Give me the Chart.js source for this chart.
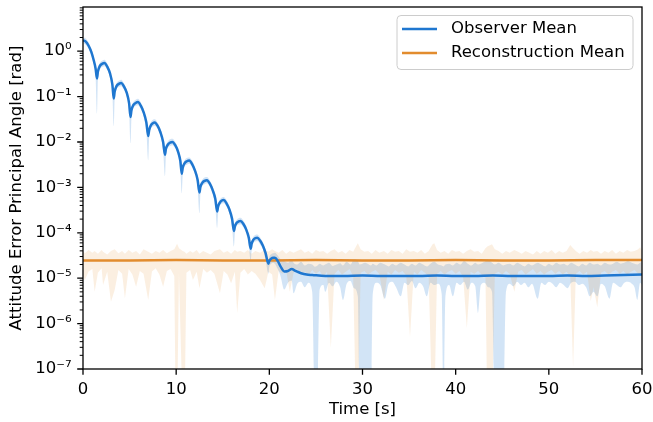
<!DOCTYPE html>
<html>
<head>
<meta charset="utf-8">
<script src="https://cdn.jsdelivr.net/npm/chart.js@4"></script>
<style>
  html, body { margin: 0; padding: 0; background: #fff; }
  #wrap { width: 653px; height: 422px; }
</style>
</head>
<body>
<div id="wrap"><canvas id="chart" width="653" height="422"></canvas></div>
<script>
// values are log10 of the principal angle error [rad]
const obsTime = [0,0.3,0.6,0.9,1.15,1.35,1.5,
  1.6,1.8,2.05,2.3,2.6,2.9,3.15,3.3, 3.4,3.6,3.85,4.1,4.4,4.7,4.95,5.1,
  5.2,5.4,5.65,5.9,6.2,6.5,6.8,7.0, 7.1,7.3,7.5,7.7,8.0,8.3,8.6,8.8,
  8.9,9.1,9.35,9.6,9.9,10.2,10.45,10.6, 10.7,10.9,11.15,11.4,11.7,12.0,12.3,12.5,
  12.6,12.8,13.05,13.3,13.6,13.9,14.2,14.4, 14.5,14.7,14.9,15.1,15.4,15.7,16.0,16.2,
  16.3,16.5,16.7,16.9,17.2,17.5,17.8,18.0, 18.1,18.3,18.5,18.7,19.0,19.3,19.6,19.9,
  20.0,20.2,20.4,20.6,20.9,21.2,
  21.6,22.0,22.4,22.8,23.4,24.0,24.6,
  26,28,30,32,34,36,38,40,42,44,46,48,50,52,54,56,58,60];
const obsMean = [0.24,0.21,0.12,-0.02,-0.2,-0.38,-0.6,
  -0.45,-0.33,-0.28,-0.26,-0.34,-0.49,-0.73,-1.04, -0.89,-0.77,-0.72,-0.70,-0.78,-0.92,-1.15,-1.45,
  -1.30,-1.19,-1.14,-1.12,-1.20,-1.34,-1.57,-1.87, -1.74,-1.63,-1.585,-1.57,-1.64,-1.78,-2.0,-2.28,
  -2.15,-2.06,-2.015,-2.0,-2.07,-2.21,-2.42,-2.7, -2.57,-2.47,-2.425,-2.41,-2.48,-2.62,-2.83,-3.11,
  -2.99,-2.9,-2.855,-2.84,-2.91,-3.05,-3.25,-3.53, -3.42,-3.33,-3.29,-3.28,-3.35,-3.48,-3.69,-3.96,
  -3.86,-3.78,-3.75,-3.74,-3.8,-3.92,-4.11,-4.35, -4.24,-4.15,-4.12,-4.11,-4.17,-4.28,-4.45,-4.68,
  -4.62,-4.57,-4.55,-4.55,-4.62,-4.74,
  -4.85,-4.84,-4.8,-4.84,-4.89,-4.92,-4.93,
  -4.95,-4.95,-4.94,-4.95,-4.95,-4.95,-4.94,-4.95,-4.95,-4.94,-4.95,-4.95,-4.95,-4.94,-4.95,-4.94,-4.93,-4.92];

const obsBandTime = [0,0.3,0.6,0.9,1.15,1.35,1.5,
  1.6,1.8,2.05,2.3,2.6,2.9,3.15,3.3, 3.4,3.6,3.85,4.1,4.4,4.7,4.95,5.1,
  5.2,5.4,5.65,5.9,6.2,6.5,6.8,7.0, 7.1,7.3,7.5,7.7,8.0,8.3,8.6,8.8,
  8.9,9.1,9.35,9.6,9.9,10.2,10.45,10.6, 10.7,10.9,11.15,11.4,11.7,12.0,12.3,12.5,
  12.6,12.8,13.05,13.3,13.6,13.9,14.2,14.4, 14.5,14.7,14.9,15.1,15.4,15.7,16.0,16.2,
  16.3,16.5,16.7,16.9,17.2,17.5,17.8,18.0, 18.1,18.3,18.5,18.7,19.0,19.3,19.6,19.9,
  20.0,20.2,20.4,20.6,20.9,21.2,
  21.6,22.0,22.4,22.6,23.0,23.4,23.8,24.2,24.6,24.9,
  25.1,25.4,25.8,26.0,26.4,26.8,27.2,27.6,27.9,28.3,
  28.7,29.1,29.5,29.7,30.3,30.9,31.1,31.5,31.9,32.4,
  32.8,33.2,33.6,34.1,34.5,34.9,35.3,35.7,36.1,36.5,
  36.9,37.3,37.7,38.1,38.5,38.7,38.9,39.3,39.7,40.1,
  40.5,40.9,41.3,41.7,42.1,42.4,42.7,43.1,43.5,43.9,
  44.2,44.6,45.1,45.4,45.8,46.2,46.6,47.0,47.4,47.8,
  48.2,48.8,49.2,49.6,50.0,50.4,50.8,51.2,51.6,52.0,
  52.4,52.8,53.2,53.6,54.0,54.4,54.8,55.2,55.6,56.0,
  56.5,56.9,57.3,57.7,58.1,58.5,58.9,59.2,59.5,59.8,60.0];
const obsBandLo = [0.18,0.14,0.05,-0.09,-0.28,-0.55,-1.37,
  -0.62,-0.40,-0.35,-0.33,-0.41,-0.58,-0.90,-1.65, -1.05,-0.84,-0.79,-0.77,-0.85,-1.0,-1.32,-2.03,
  -1.47,-1.26,-1.21,-1.19,-1.27,-1.42,-1.75,-2.40, -1.90,-1.70,-1.66,-1.64,-1.71,-1.86,-2.18,-2.75,
  -2.31,-2.13,-2.09,-2.07,-2.14,-2.29,-2.60,-3.13, -2.73,-2.54,-2.50,-2.48,-2.55,-2.70,-3.01,-3.57,
  -3.15,-2.97,-2.93,-2.91,-2.98,-3.13,-3.43,-3.89, -3.58,-3.40,-3.36,-3.35,-3.42,-3.56,-3.87,-4.30,
  -4.02,-3.85,-3.82,-3.81,-3.87,-4.0,-4.29,-4.62, -4.40,-4.22,-4.19,-4.18,-4.25,-4.36,-4.60,-4.90,
  -4.75,-4.68,-4.66,-4.68,-4.80,-4.95,
  -5.25,-5.10,-5.05,-5.33,-5.12,-5.08,-5.20,-5.10,-5.30,-8,
  -8,-5.25,-5.15,-5.30,-5.10,-5.18,-5.08,-5.20,-5.48,-5.12,
  -5.06,-5.22,-5.40,-8,-8,-8,-5.35,-5.10,-5.15,-5.45,
  -5.12,-5.08,-5.20,-5.40,-5.10,-5.15,-5.06,-5.22,-5.10,-5.18,
  -5.40,-5.10,-5.15,-5.12,-5.35,-8,-5.40,-5.15,-5.40,-5.10,
  -5.15,-5.08,-5.25,-5.10,-5.18,-5.77,-5.15,-5.10,-5.20,-5.30,
  -8,-8,-8,-5.30,-5.12,-5.18,-5.08,-5.15,-5.10,-5.20,
  -5.12,-5.45,-5.10,-5.15,-5.08,-5.12,-5.20,-5.10,-5.15,-5.22,
  -5.10,-5.08,-5.15,-5.12,-5.20,-5.40,-5.30,-5.40,-5.12,-5.18,
  -5.45,-5.10,-5.15,-5.20,-5.10,-5.08,-5.12,-5.20,-5.48,-5.10,-5.15];
const obsBandHi = [0.30,0.28,0.19,0.05,-0.13,-0.31,-0.52,
  -0.38,-0.26,-0.21,-0.19,-0.27,-0.42,-0.66,-0.96, -0.82,-0.70,-0.65,-0.63,-0.71,-0.85,-1.08,-1.37,
  -1.23,-1.12,-1.07,-1.05,-1.13,-1.27,-1.50,-1.79, -1.67,-1.56,-1.51,-1.50,-1.57,-1.71,-1.93,-2.20,
  -2.08,-1.99,-1.94,-1.93,-2.0,-2.14,-2.35,-2.62, -2.50,-2.40,-2.35,-2.34,-2.41,-2.55,-2.76,-3.03,
  -2.92,-2.83,-2.78,-2.77,-2.84,-2.98,-3.18,-3.45, -3.35,-3.26,-3.22,-3.21,-3.28,-3.41,-3.62,-3.88,
  -3.79,-3.71,-3.68,-3.67,-3.73,-3.85,-4.04,-4.27, -4.17,-4.08,-4.05,-4.04,-4.10,-4.21,-4.38,-4.60,
  -4.52,-4.47,-4.45,-4.44,-4.50,-4.58,
  -4.62,-4.66,-4.58,-4.66,-4.70,-4.64,-4.72,-4.68,-4.70,-4.75,
  -4.73,-4.68,-4.72,-4.70,-4.66,-4.73,-4.70,-4.67,-4.72,-4.64,
  -4.70,-4.58,-4.62,-4.70,-4.66,-4.72,-4.68,-4.72,-4.66,-4.70,
  -4.74,-4.68,-4.72,-4.66,-4.70,-4.74,-4.68,-4.72,-4.66,-4.70,
  -4.74,-4.68,-4.64,-4.70,-4.72,-4.74,-4.70,-4.68,-4.72,-4.66,
  -4.70,-4.62,-4.68,-4.72,-4.66,-4.70,-4.68,-4.64,-4.60,-4.66,
  -4.70,-4.66,-4.72,-4.70,-4.68,-4.72,-4.66,-4.70,-4.74,-4.68,
  -4.72,-4.66,-4.70,-4.74,-4.68,-4.72,-4.66,-4.70,-4.68,-4.72,
  -4.66,-4.70,-4.74,-4.68,-4.72,-4.66,-4.70,-4.68,-4.72,-4.66,
  -4.70,-4.68,-4.64,-4.68,-4.66,-4.62,-4.66,-4.68,-4.70,-4.66,-4.64];

const recTime = [0,5,10,15,20,25,30,35,40,45,50,55,60];
const recMean = [-4.61,-4.61,-4.60,-4.61,-4.61,-4.60,-4.61,-4.61,-4.60,-4.61,-4.61,-4.60,-4.60];

const recBandTime = [0.0,0.2,0.6,1.0,1.25,1.6,2.0,2.15,2.6,3.0,
  3.4,3.8,4.2,4.5,4.9,5.3,5.7,6.1,6.5,7.0,
  7.4,7.8,8.2,8.6,9.0,9.4,9.8,9.95,10.1,10.3,
  10.7,10.9,11.1,11.5,11.8,12.2,12.5,12.9,13.3,13.7,
  14.1,14.7,15.1,15.5,15.9,16.3,16.55,16.9,17.3,17.7,
  18.1,18.5,19.0,19.5,19.9,20.3,20.6,21.0,21.4,21.8,
  22.2,22.6,23.0,23.4,23.8,24.2,24.6,25.0,25.4,25.8,
  26.2,26.6,27.0,27.4,27.8,28.2,28.6,29.0,29.3,29.5,
  29.8,30.2,30.6,31.0,31.4,31.8,32.3,32.7,33.1,33.5,
  33.9,34.3,34.7,35.1,35.5,35.9,36.3,36.7,37.1,37.5,
  37.7,38.0,38.4,38.8,39.2,39.6,40.0,40.4,40.8,41.2,
  41.6,42.0,42.4,42.8,43.2,43.4,43.9,44.2,44.6,45.0,
  45.4,45.8,46.3,46.7,47.1,47.5,47.9,48.3,48.7,49.1,
  49.5,49.9,50.3,50.7,51.1,51.5,51.9,52.3,52.6,52.9,
  53.3,53.7,54.1,54.5,54.8,55.2,55.6,56.0,56.4,56.8,
  57.2,57.6,58.0,58.4,58.8,59.2,59.6,59.8,60.0];
const recBandLo = [-4.95,-5.04,-4.85,-4.80,-5.30,-4.88,-4.78,-5.15,-4.86,-5.52,
  -5.26,-4.82,-4.90,-5.44,-4.80,-4.92,-5.19,-4.84,-4.90,-5.48,
  -4.85,-4.78,-4.92,-5.19,-4.84,-4.80,-4.95,-8,-8,-4.90,
  -8,-8,-4.88,-4.82,-5.04,-4.86,-5.22,-4.80,-4.88,-4.82,
  -4.90,-5.33,-4.84,-4.92,-5.11,-4.86,-5.77,-4.88,-4.80,-4.92,
  -4.84,-4.90,-5.04,-5.22,-4.86,-4.92,-5.48,-4.84,-4.90,-4.82,
  -5.30,-4.88,-4.80,-4.92,-4.86,-4.94,-4.82,-4.90,-4.84,-4.96,
  -4.86,-6.54,-4.90,-4.82,-4.92,-4.86,-4.80,-4.95,-8,-8,
  -4.88,-4.84,-4.92,-4.86,-4.82,-4.90,-5.48,-4.86,-4.92,-4.82,
  -4.88,-4.84,-4.94,-6.30,-4.86,-4.92,-4.82,-4.88,-4.95,-8,
  -8,-4.90,-4.84,-4.92,-4.86,-4.82,-4.90,-4.84,-4.96,-6.10,
  -4.86,-4.90,-4.84,-4.92,-4.98,-8,-8,-4.90,-4.86,-4.92,
  -4.84,-4.90,-5.30,-4.86,-4.82,-4.92,-4.86,-4.80,-4.90,-4.84,
  -4.92,-4.86,-4.82,-4.90,-4.84,-4.92,-4.86,-4.95,-6.96,-4.90,
  -4.84,-4.92,-4.86,-5.50,-5.20,-5.64,-4.88,-4.84,-4.92,-4.86,
  -4.82,-4.90,-4.84,-4.92,-4.86,-4.82,-4.90,-4.96,-4.88];
const recBandHi = [-4.40,-4.45,-4.38,-4.44,-4.40,-4.46,-4.38,-4.42,-4.48,-4.40,
  -4.36,-4.45,-4.40,-4.46,-4.38,-4.44,-4.40,-4.48,-4.36,-4.42,
  -4.46,-4.40,-4.44,-4.38,-4.45,-4.40,-4.36,-4.30,-4.24,-4.34,
  -4.40,-4.42,-4.46,-4.40,-4.44,-4.38,-4.46,-4.40,-4.44,-4.48,
  -4.40,-4.36,-4.44,-4.40,-4.46,-4.38,-4.42,-4.40,-4.44,-4.38,
  -4.46,-4.40,-4.44,-4.38,-4.42,-4.36,-4.40,-4.44,-4.38,-4.46,
  -4.40,-4.44,-4.40,-4.36,-4.44,-4.40,-4.46,-4.38,-4.42,-4.40,
  -4.46,-4.40,-4.36,-4.44,-4.40,-4.46,-4.38,-4.42,-4.30,-4.23,
  -4.36,-4.42,-4.40,-4.46,-4.38,-4.44,-4.40,-4.46,-4.38,-4.42,
  -4.40,-4.46,-4.36,-4.42,-4.40,-4.44,-4.38,-4.46,-4.40,-4.26,
  -4.23,-4.38,-4.44,-4.40,-4.46,-4.38,-4.42,-4.40,-4.46,-4.40,
  -4.36,-4.42,-4.40,-4.46,-4.34,-4.30,-4.25,-4.36,-4.40,-4.46,
  -4.40,-4.44,-4.38,-4.42,-4.46,-4.40,-4.44,-4.48,-4.40,-4.46,
  -4.40,-4.44,-4.38,-4.46,-4.40,-4.44,-4.40,-4.27,-4.34,-4.40,
  -4.46,-4.40,-4.44,-4.38,-4.42,-4.40,-4.46,-4.40,-4.44,-4.38,
  -4.46,-4.40,-4.44,-4.38,-4.42,-4.40,-4.36,-4.32,-4.40];

const seriesNames = ['Observer Mean', 'Reconstruction Mean'];
const xTicks = [0, 10, 20, 30, 40, 50, 60];
const yDecades = [-7, -6, -5, -4, -3, -2, -1, 0];
const yMax = 9.4;

const blue = 'rgb(31,119,208)';
const orange = 'rgb(226,140,46)';

const toPoints = (ts, logs) => ts.map((t, i) => ({ x: t, y: 10 ** logs[i] }));

const sup = { '-': '\u207B', '0': '\u2070', '1': '\u00B9', '2': '\u00B2', '3': '\u00B3',
  '4': '\u2074', '5': '\u2075', '6': '\u2076', '7': '\u2077', '8': '\u2078', '9': '\u2079' };
const powLabel = (e) => '10' + String(e).split('').map(c => sup[c]).join('');

Chart.defaults.font.family = 'DejaVu Sans';
Chart.defaults.font.size = 16.5;
Chart.defaults.color = '#000';

// matplotlib style spines, ticks and legend box
const mplAxes = {
  id: 'mplAxes',
  afterDatasetsDraw(chart) {
    const { ctx, chartArea: a, scales: { x, y } } = chart;
    ctx.save();
    ctx.strokeStyle = '#000';
    ctx.lineWidth = 1.3;
    ctx.beginPath();
    xTicks.forEach(v => {
      const px = x.getPixelForValue(v);
      ctx.moveTo(px, a.bottom);
      ctx.lineTo(px, a.bottom + 5.8);
    });
    yDecades.forEach(d => {
      const py = y.getPixelForValue(10 ** d);
      ctx.moveTo(a.left, py);
      ctx.lineTo(a.left - 5.8, py);
    });
    ctx.stroke();
    ctx.lineWidth = 1;
    ctx.beginPath();
    yDecades.forEach(d => {
      for (let k = 2; k <= 9; k++) {
        const v = k * 10 ** d;
        if (v > yMax) break;
        const py = y.getPixelForValue(v);
        ctx.moveTo(a.left, py);
        ctx.lineTo(a.left - 3.3, py);
      }
    });
    ctx.stroke();
    ctx.lineWidth = 1.3;
    ctx.strokeRect(a.left, a.top, a.right - a.left, a.bottom - a.top);

    // legend
    const bx = a.right - 245, by = a.top + 8.5, bw = 236, bh = 54;
    ctx.beginPath();
    ctx.roundRect(bx, by, bw, bh, 4);
    ctx.fillStyle = 'rgba(255,255,255,0.8)';
    ctx.fill();
    ctx.strokeStyle = '#cccccc';
    ctx.lineWidth = 1;
    ctx.stroke();
    [blue, orange].forEach((c, i) => {
      const ly = by + 13.5 + i * 24;
      ctx.strokeStyle = c;
      ctx.lineWidth = 2.5;
      ctx.beginPath();
      ctx.moveTo(bx + 5, ly);
      ctx.lineTo(bx + 40, ly);
      ctx.stroke();
      ctx.fillStyle = '#000';
      ctx.font = '16.5px "DejaVu Sans"';
      ctx.textBaseline = 'middle';
      ctx.fillText(seriesNames[i], bx + 54, ly);
    });
    ctx.restore();
  }
};

new Chart(document.getElementById('chart'), {
  type: 'line',
  data: {
    datasets: [
      {
        data: toPoints(obsBandTime, obsBandHi),
        fill: '+1',
        backgroundColor: 'rgba(31,119,208,0.2)',
        borderColor: 'rgba(0,0,0,0)',
        borderWidth: 0,
        cubicInterpolationMode: 'monotone',
        order: 6
      },
      {
        data: toPoints(obsBandTime, obsBandLo),
        fill: false,
        borderColor: 'rgba(0,0,0,0)',
        borderWidth: 0,
        cubicInterpolationMode: 'monotone',
        order: 6
      },
      {
        data: toPoints(recBandTime, recBandHi),
        fill: '+1',
        backgroundColor: 'rgba(226,140,46,0.14)',
        borderColor: 'rgba(0,0,0,0)',
        borderWidth: 0,
        order: 5
      },
      {
        data: toPoints(recBandTime, recBandLo),
        fill: false,
        borderColor: 'rgba(0,0,0,0)',
        borderWidth: 0,
        order: 5
      },
      {
        label: seriesNames[1],
        data: toPoints(recTime, recMean),
        borderColor: orange,
        borderWidth: 2.5,
        fill: false,
        order: 2
      },
      {
        label: seriesNames[0],
        data: toPoints(obsTime, obsMean),
        borderColor: blue,
        borderWidth: 2.5,
        fill: false,
        cubicInterpolationMode: 'monotone',
        order: 1
      }
    ]
  },
  options: {
    responsive: false,
    animation: false,
    events: [],
    layout: { padding: { top: 7, right: 11, bottom: 0, left: 0 } },
    elements: { point: { radius: 0 } },
    plugins: { legend: { display: false }, tooltip: { enabled: false } },
    scales: {
      x: {
        type: 'linear',
        min: 0,
        max: 60,
        grid: { display: false, drawTicks: false },
        border: { display: false },
        afterBuildTicks: (s) => { s.ticks = xTicks.map(v => ({ value: v })); },
        afterFit: (s) => { s.height = 53; s.paddingLeft = 0; s.paddingRight = 0; },
        ticks: { padding: 11, maxRotation: 0, autoSkip: false },
        title: { display: true, text: 'Time [s]', padding: { top: 0, bottom: 2 } }
      },
      y: {
        type: 'logarithmic',
        min: 1e-7,
        max: yMax,
        grid: { display: false, drawTicks: false },
        border: { display: false },
        afterBuildTicks: (s) => { s.ticks = yDecades.map(d => ({ value: 10 ** d })); },
        afterFit: (s) => { s.width = 83; s.paddingTop = 0; s.paddingBottom = 0; },
        ticks: {
          padding: 11.5,
          autoSkip: false,
          callback: (v) => powLabel(Math.round(Math.log10(v)))
        },
        title: { display: true, text: 'Attitude Error Principal Angle [rad]', padding: { top: 7, bottom: 0 } }
      }
    }
  },
  plugins: [mplAxes]
});
</script>
</body>
</html>
